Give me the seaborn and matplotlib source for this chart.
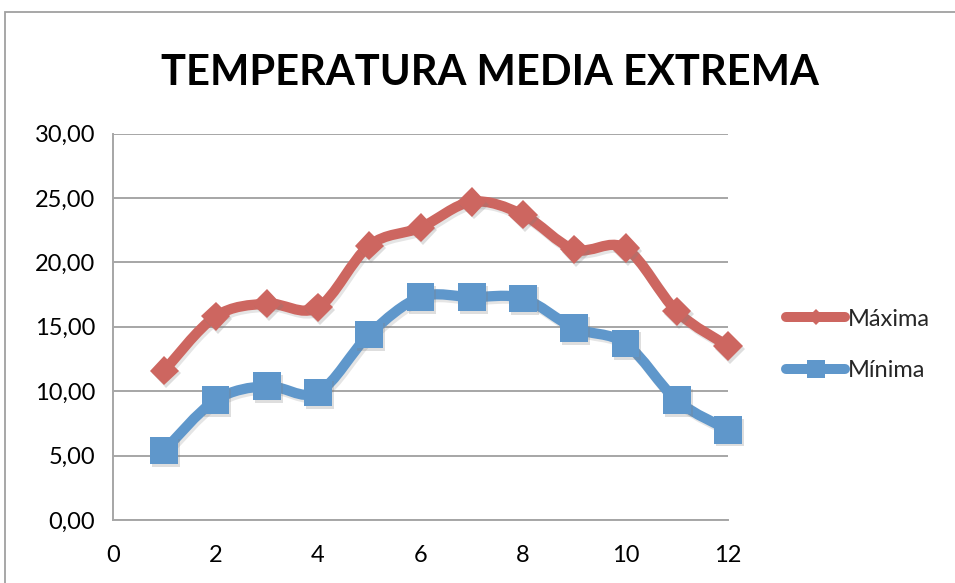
import numpy as np
import matplotlib
matplotlib.use("Agg")
import matplotlib.pyplot as plt
import matplotlib.patheffects as pe
from matplotlib.path import Path
from matplotlib.patches import PathPatch, Rectangle
from matplotlib.lines import Line2D
from matplotlib.ticker import FuncFormatter
import seaborn as sns

# Monthly mean extreme temperatures
meses = [1, 2, 3, 4, 5, 6, 7, 8, 9, 10, 11, 12]
maxima = [11.6, 15.8, 16.8, 16.5, 21.3, 22.7, 24.7, 23.7, 21.0, 21.1, 16.2, 13.5]
minima = [5.4, 9.3, 10.4, 9.9, 14.4, 17.3, 17.3, 17.2, 14.9, 13.7, 9.3, 7.0]
series_names = ["Máxima", "Mínima"]
title_text = "TEMPERATURA MEDIA EXTREMA"
x_ticks = [0, 2, 4, 6, 8, 10, 12]
y_ticks = [0, 5, 10, 15, 20, 25, 30]

RED = "#CD6660"
BLUE = "#5F97CB"
GRID = "#A6A6A6"

sns.set_theme(style="white")
plt.rcParams["font.family"] = ["Lato", "DejaVu Sans"]

W, H = 955, 583
fig = plt.figure(figsize=(W / 100, H / 100), dpi=100)
ax = fig.add_axes([113 / W, 1 - 520 / H, (728 - 113) / W, (520 - 133.5) / H])


def smooth_path(xs, ys):
    """Bezier path through the points with Catmull-Rom style tangents."""
    pts = np.column_stack([xs, ys]).astype(float)
    n = len(pts)
    verts = [pts[0]]
    codes = [Path.MOVETO]
    for i in range(n - 1):
        p0 = pts[i - 1] if i > 0 else pts[i]
        p1 = pts[i]
        p2 = pts[i + 1]
        p3 = pts[i + 2] if i + 2 < n else pts[i + 1]
        c1 = p1 + (p2 - p0) / 6.0
        c2 = p2 - (p3 - p1) / 6.0
        verts += [c1, c2, p2]
        codes += [Path.CURVE4] * 3
    return Path(verts, codes)


line_shadow = [pe.SimpleLineShadow(offset=(1.5, -2), shadow_color="#7f7f7f", alpha=0.2),
               pe.Normal()]
marker_shadow = [pe.SimplePatchShadow(offset=(1.5, -2), shadow_rgbFace="#7f7f7f", alpha=0.25),
                 pe.Normal()]

for ys, color, marker, ms in [(maxima, RED, "D", 15), (minima, BLUE, "s", 20)]:
    patch = PathPatch(smooth_path(meses, ys), fill=False, edgecolor=color, lw=7.4,
                      capstyle="round", joinstyle="round", zorder=3, clip_on=False)
    patch.set_path_effects(line_shadow)
    ax.add_patch(patch)
    sns.lineplot(x=meses, y=ys, ax=ax, color=color, marker=marker, markersize=ms,
                 markeredgewidth=0, legend=False, zorder=4, clip_on=False)
    pts = ax.lines[-1]
    pts.set_linestyle("None")
    pts.set_path_effects(marker_shadow)

ax.set_xlim(0, 12)
ax.set_ylim(0, 30)
ax.set_xticks(x_ticks)
ax.set_yticks(y_ticks)
ax.yaxis.set_major_formatter(FuncFormatter(lambda v, p: f"{v:.2f}".replace(".", ",")))
ax.grid(axis="y", color=GRID, lw=1.4)
ax.grid(axis="x", visible=False)
ax.set_axisbelow(True)
for side in ["top", "right"]:
    ax.spines[side].set_visible(False)
for side in ["left", "bottom"]:
    ax.spines[side].set_color(GRID)
    ax.spines[side].set_linewidth(1.4)
ax.tick_params(axis="both", which="major", direction="out", length=6, width=1.4,
               color=GRID, labelsize=17, labelcolor="black")
ax.tick_params(axis="y", pad=7)
ax.tick_params(axis="x", pad=12)
ax.set_xlabel("")
ax.set_ylabel("")

fig.text(490 / W, 1 - 73 / H, title_text, ha="center", va="center",
         fontsize=30, fontweight="bold", color="black")

handles = [
    Line2D([0], [0], color=RED, lw=7.2, marker="D", markersize=8, markeredgewidth=0,
           solid_capstyle="round"),
    Line2D([0], [0], color=BLUE, lw=7.2, marker="s", markersize=13, markeredgewidth=0,
           solid_capstyle="round"),
]
fig.legend(handles, series_names, loc="center left", bbox_to_anchor=(786 / W, 1 - 345 / H),
           frameon=False, fontsize=17, handlelength=2.5, handletextpad=0.1,
           labelspacing=1.3, borderaxespad=0, borderpad=0)

fig.patches.append(Rectangle((4.5 / W, -0.2), 2.0, 1.2 - 12 / H, transform=fig.transFigure,
                             fill=False, edgecolor="#A0A0A0", lw=1.3, figure=fig))

fig.savefig("out.png", dpi=100)
